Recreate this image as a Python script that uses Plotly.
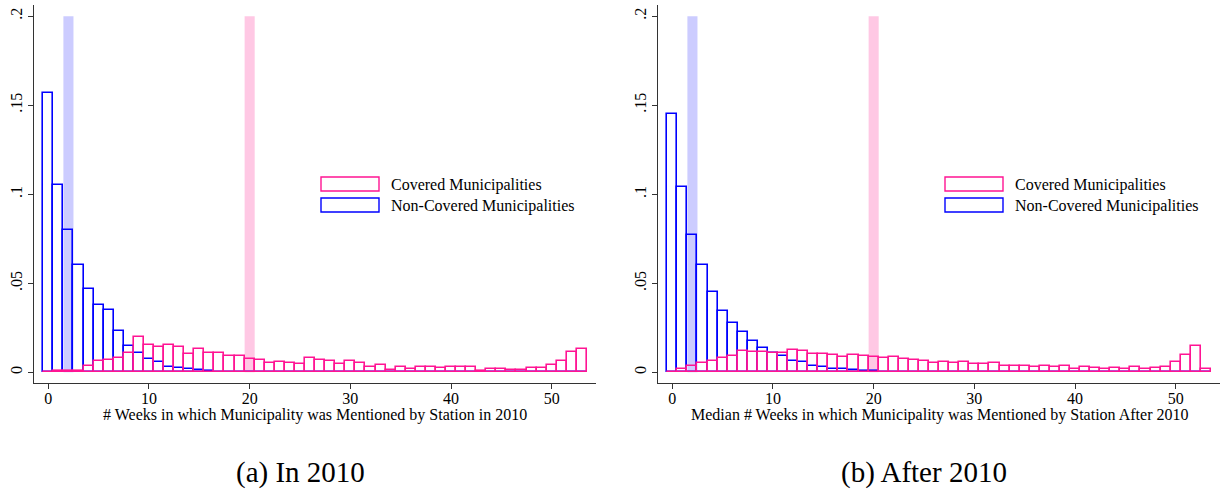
import plotly.graph_objects as go

W, H = 1225, 491

weeks = list(range(0, 54))

cov_2010 = [0.0003, 0.0010, 0.0008, 0.0008, 0.0037, 0.0061, 0.0069, 0.0081, 0.0106, 0.0196,
            0.0155, 0.0145, 0.0153, 0.0141, 0.0101, 0.0129, 0.0111, 0.0110, 0.0092, 0.0092,
            0.0073, 0.0067, 0.0055, 0.0056, 0.0052, 0.0044, 0.0082, 0.0067, 0.0064, 0.0045,
            0.0064, 0.0052, 0.0032, 0.0043, 0.0015, 0.0032, 0.0021, 0.0032, 0.0028, 0.0022,
            0.0030, 0.0028, 0.0028, 0.0009, 0.0021, 0.0021, 0.0015, 0.0013, 0.0026, 0.0024,
            0.0041, 0.0064, 0.0116, 0.0133]

non_2010 = [0.1566, 0.1052, 0.0798, 0.0605, 0.0468, 0.0378, 0.0349, 0.0230, 0.0148, 0.0111,
            0.0075, 0.0056, 0.0029, 0.0023, 0.0016, 0.0013, 0.0006, 0.0004, 0.0003, 0.0003,
            0.0002, 0.0002, 0.0002, 0.0001, 0.0001, 0.0002, 0.0002, 0.0001, 0.0001, 0.0002,
            0.0001, 0.0001, 0.0002, 0.0001, 0.0001, 0.0002, 0.0001, 0.0001, 0.0001, 0.0001,
            0.0001, 0.0001, 0.0001, 0.0001, 0.0001, 0.0001, 0.0001, 0.0001, 0.0001, 0.0001,
            0.0001, 0.0001, 0.0001, 0.0001]

cov_after = [0.0003, 0.0021, 0.0036, 0.0053, 0.0064, 0.0083, 0.0092, 0.0119, 0.0112, 0.0114,
             0.0110, 0.0109, 0.0126, 0.0120, 0.0105, 0.0101, 0.0098, 0.0085, 0.0098, 0.0092,
             0.0085, 0.0078, 0.0085, 0.0074, 0.0071, 0.0064, 0.0054, 0.0060, 0.0051, 0.0058,
             0.0047, 0.0047, 0.0051, 0.0037, 0.0037, 0.0037, 0.0032, 0.0037, 0.0030, 0.0034,
             0.0021, 0.0028, 0.0024, 0.0017, 0.0024, 0.0019, 0.0028, 0.0021, 0.0022, 0.0032,
             0.0056, 0.0096, 0.0150, 0.0019]

non_after = [0.1451, 0.1041, 0.0773, 0.0605, 0.0449, 0.0344, 0.0279, 0.0228, 0.0176, 0.0137,
             0.0106, 0.0090, 0.0061, 0.0056, 0.0038, 0.0030, 0.0020, 0.0019, 0.0012, 0.0008,
             0.0005, 0.0002, 0.0002, 0.0002, 0.0001, 0.0001, 0.0001, 0.0001, 0.0001, 0.0001,
             0.0001, 0.0001, 0.0001, 0.0001, 0.0001, 0.0001, 0.0001, 0.0001, 0.0001, 0.0001,
             0.0001, 0.0001, 0.0001, 0.0001, 0.0001, 0.0001, 0.0001, 0.0001, 0.0001, 0.0001,
             0.0001, 0.0001, 0.0001, 0.0001]

# medians highlighted by shaded bands
median_non = 2
median_cov = 20

x_tickvals = [0, 10, 20, 30, 40, 50]
y_tickvals = [0, 0.05, 0.1, 0.15, 0.2]
y_ticktext = ["0", ".05", ".1", ".15", ".2"]

legend_labels = ["Covered Municipalities", "Non-Covered Municipalities"]
x_titles = ["# Weeks in which Municipality was Mentioned by Station in 2010",
            "Median # Weeks in which Municipality was Mentioned by Station After 2010"]
captions = ["(a) In 2010", "(b) After 2010"]

PINK = "#ff1493"
BLUE = "#0000ff"
PINK_BAND = "#ffc8e4"
BLUE_BAND = "#ccccff"
FONT = "Liberation Serif, Times New Roman, serif"


def px(x):
    return x / W


def py(y):
    return 1 - y / H


fig = go.Figure()

panels = [
    dict(cov=cov_2010, non=non_2010, xa="x", ya="y", left=34, right=596),
    dict(cov=cov_after, non=non_after, xa="x2", ya="y2", left=658, right=1220),
]

top_px, bottom_px = 5, 383

for i, p in enumerate(panels):
    fig.add_trace(go.Bar(x=weeks, y=p["non"], width=1, xaxis=p["xa"], yaxis=p["ya"],
                         marker=dict(color="rgba(0,0,0,0)", line=dict(color=BLUE, width=1.6)),
                         name=legend_labels[1], showlegend=False))
    fig.add_trace(go.Bar(x=weeks, y=p["cov"], width=1, xaxis=p["xa"], yaxis=p["ya"],
                         marker=dict(color="rgba(0,0,0,0)", line=dict(color=PINK, width=1.6)),
                         name=legend_labels[0], showlegend=False))
    # shaded bands
    for med, col in [(median_non, BLUE_BAND), (median_cov, PINK_BAND)]:
        fig.add_shape(type="rect", xref=p["xa"], yref=p["ya"], x0=med - 0.5, x1=med + 0.5,
                      y0=0, y1=0.2, fillcolor=col, line=dict(width=0), layer="below")
    # manual legend
    off = p["left"]
    for j, (lab, col) in enumerate(zip(legend_labels, [PINK, BLUE])):
        y0 = 177 + j * 21
        fig.add_shape(type="rect", xref="paper", yref="paper",
                      x0=px(off + 287), x1=px(off + 345), y0=py(y0), y1=py(y0 + 14),
                      line=dict(color=col, width=1.4), fillcolor="white")
        fig.add_annotation(xref="paper", yref="paper", x=px(off + 355), y=py(y0 + 7.5),
                           text=lab, showarrow=False, xanchor="left", yanchor="middle",
                           font=dict(family=FONT, size=16, color="black"))
    # x-axis title
    fig.add_annotation(xref="paper", yref="paper", x=px((p["left"] + p["right"]) / 2),
                       y=py(415), text=x_titles[i], showarrow=False, xanchor="center",
                       yanchor="middle", font=dict(family=FONT, size=16, color="black"))
    # caption
    fig.add_annotation(xref="paper", yref="paper", x=px((p["left"] + p["right"]) / 2 - 15),
                       y=py(472), text=captions[i], showarrow=False, xanchor="center",
                       yanchor="middle", font=dict(family=FONT, size=29, color="black"))

axis_common = dict(showline=True, linecolor="#333", linewidth=1, ticks="outside", ticklen=5,
                   tickcolor="#333", showgrid=False, zeroline=False,
                   tickfont=dict(family=FONT, size=16, color="black"))

for i, p in enumerate(panels):
    sfx = "" if i == 0 else "2"
    fig.update_layout(**{
        "xaxis" + sfx: dict(axis_common, domain=[px(p["left"]), px(p["right"])],
                            range=[-1.42, 54.4], tickvals=x_tickvals, anchor="y" + sfx,
                            ticklabelstandoff=-4),
        "yaxis" + sfx: dict(axis_common, domain=[py(bottom_px), py(top_px)],
                            range=[-0.006, 0.2063], tickvals=y_tickvals, ticktext=y_ticktext,
                            tickangle=-90, anchor="x" + sfx),
    })

fig.update_layout(width=W, height=H, margin=dict(l=0, r=0, t=0, b=0),
                  paper_bgcolor="white", plot_bgcolor="white", barmode="overlay",
                  bargap=0, showlegend=False)

fig.write_html("out.html", config={"displayModeBar": False},
               post_script="document.body.style.margin='0';")
